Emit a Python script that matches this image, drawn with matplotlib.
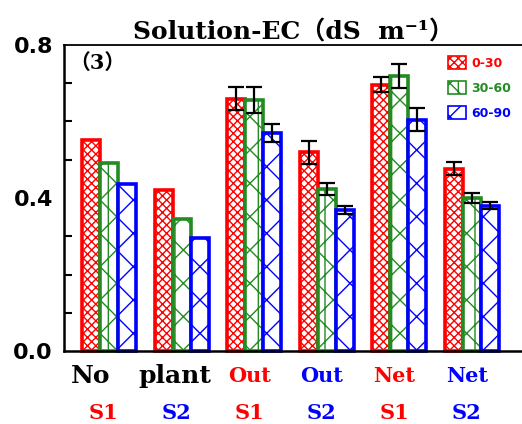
import numpy as np
import matplotlib.pyplot as plt
from matplotlib.patches import Patch

depths = ['0-30', '30-60', '60-90']
colors = ['#ff0000', '#228b22', '#0000ff']
hatches = ['xxxx', '|x', 'x']

# solution EC per treatment, one list per soil depth
ec_0_30 = [0.552, 0.421, 0.660, 0.519, 0.696, 0.476]
ec_30_60 = [0.491, 0.345, 0.656, 0.424, 0.719, 0.400]
ec_60_90 = [0.437, 0.295, 0.570, 0.368, 0.605, 0.380]
err_0_30 = [np.nan, np.nan, 0.031, 0.030, 0.020, 0.017]
err_30_60 = [np.nan, np.nan, 0.033, 0.015, 0.031, 0.013]
err_60_90 = [np.nan, np.nan, 0.023, 0.011, 0.030, 0.010]

treat_top = ['Out', 'Out', 'Net', 'Net']
treat_sub = ['S1', 'S2', 'S1', 'S2', 'S1', 'S2']
sub_colors = ['#ff0000', '#0000ff', '#ff0000', '#0000ff', '#ff0000', '#0000ff']

values = [ec_0_30, ec_30_60, ec_60_90]
errors = [err_0_30, err_30_60, err_60_90]

serif = ['DejaVu Serif', 'Noto Sans CJK SC']

fig = plt.figure(figsize=(5.22, 4.24), dpi=100)
ax = fig.add_axes([0.1226, 0.172, 0.8774, 0.722])

x = np.arange(len(ec_0_30))
w = 0.248
for i in range(3):
    xi = x + (i - 1) * w
    ax.bar(xi, values[i], width=w, color='white', edgecolor=colors[i],
           hatch=hatches[i], linewidth=2.6, zorder=2, clip_on=False)
for i in range(3):
    xi = x + (i - 1) * w
    err = np.array(errors[i])
    ok = ~np.isnan(err)
    ax.errorbar(xi[ok], np.array(values[i])[ok], yerr=err[ok], fmt='none',
                ecolor='black', elinewidth=1.6, capsize=5.5, capthick=1.6, zorder=3)

ax.set_xlim(-0.62, 5.69)
ax.set_ylim(0, 0.8)
ax.set_yticks([0.0, 0.4, 0.8])
ax.set_yticklabels(['0.0', '0.4', '0.8'], fontsize=16, fontweight='bold')
ax.set_yticks(np.arange(0, 0.81, 0.1), minor=True)
ax.tick_params(axis='y', which='both', direction='in', length=6, width=1.5, pad=8)
ax.tick_params(axis='y', which='major', length=0)
ax.set_xticks([])
ax.spines['right'].set_visible(False)
ax.spines['left'].set_linewidth(1.8)
ax.spines['bottom'].set_linewidth(1.8)
ax.spines['bottom'].set_zorder(4)
ax.spines['top'].set_linewidth(1.3)

ax.set_title('Solution-EC\uff08dS  m\u207b\u00b9\uff09', fontsize=18, fontweight='bold',
             family=serif, pad=4)
ax.text(0.012, 0.975, '\uff083\uff09', transform=ax.transAxes, ha='left', va='top',
        fontsize=15, fontweight='bold', family=serif)

# category labels under the axis
tr = ax.get_xaxis_transform()
ax.text(-0.26, -0.08, 'No', transform=tr, ha='center', va='center',
        fontsize=18, fontweight='bold', family=serif)
ax.text(0.90, -0.08, 'plant', transform=tr, ha='center', va='center',
        fontsize=18, fontweight='bold', family=serif)
for j, lab in enumerate(treat_top):
    ax.text(x[j + 2] - 0.07, -0.08, lab, transform=tr, ha='center', va='center',
            fontsize=15, fontweight='bold', family=serif, color=sub_colors[j + 2])
for j, lab in enumerate(treat_sub):
    ax.text(x[j] - 0.07, -0.203, lab, transform=tr, ha='center', va='center',
            fontsize=15, fontweight='bold', family=serif, color=sub_colors[j])

handles = [Patch(facecolor='white', edgecolor=colors[i], hatch=hatches[i], linewidth=1.2)
           for i in range(3)]
leg = ax.legend(handles, depths, loc='upper right', bbox_to_anchor=(1.0, 1.0),
                frameon=False, handlelength=1.4, handleheight=1.2, handletextpad=0.4,
                labelspacing=0.9, prop={'weight': 'bold', 'size': 9})
for t, c in zip(leg.get_texts(), colors):
    t.set_color(c)

fig.savefig('out.png', dpi=100)
